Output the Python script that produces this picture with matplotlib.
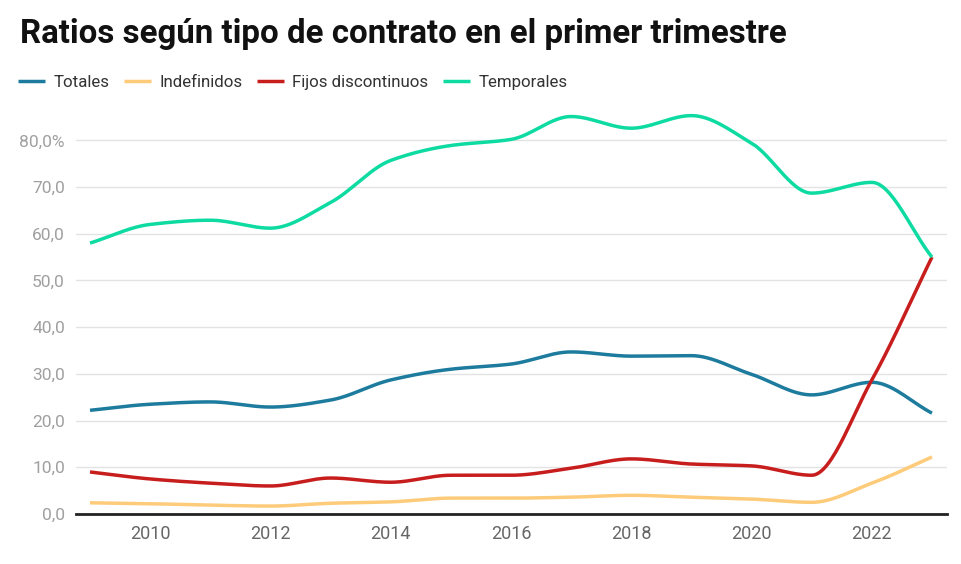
import matplotlib.pyplot as plt
import numpy as np

plt.rcParams['font.family'] = ['Roboto', 'DejaVu Sans']

years = list(range(2009, 2024))
totales = [22.2, 23.5, 24.0, 22.9, 24.4, 28.7, 31.0, 32.1, 34.7, 33.8, 33.9, 29.9, 25.5, 28.2, 21.6]
indefinidos = [2.4, 2.2, 1.9, 1.7, 2.3, 2.6, 3.4, 3.4, 3.6, 4.0, 3.6, 3.2, 2.5, 6.6, 12.2]
fijos_disc = [9.0, 7.5, 6.6, 6.0, 7.7, 6.8, 8.3, 8.3, 9.8, 11.8, 10.7, 10.3, 8.3, 28.7, 55.0]
temporales = [58.0, 62.0, 62.9, 61.2, 66.7, 75.7, 78.9, 80.2, 85.1, 82.6, 85.3, 79.4, 68.7, 71.0, 55.0]

series = [
    ("Totales", totales, "#1d7b9e"),
    ("Indefinidos", indefinidos, "#fdcb79"),
    ("Fijos discontinuos", fijos_disc, "#c71e1d"),
    ("Temporales", temporales, "#0ddba2"),
]


def monotone(x, y, n=30):
    # monotone cubic curve, only for drawing the lines smooth
    x = np.asarray(x, float)
    y = np.asarray(y, float)
    h = np.diff(x)
    d = np.diff(y) / h
    m = np.zeros_like(y)
    m[0], m[-1] = d[0], d[-1]
    for i in range(1, len(y) - 1):
        if d[i - 1] * d[i] > 0:
            m[i] = 2 * d[i - 1] * d[i] / (d[i - 1] + d[i])
    xs, ys = [], []
    t = np.linspace(0, 1, n, endpoint=False)
    h00 = 2 * t**3 - 3 * t**2 + 1
    h10 = t**3 - 2 * t**2 + t
    h01 = -2 * t**3 + 3 * t**2
    h11 = t**3 - t**2
    for i in range(len(x) - 1):
        xs.append(x[i] + t * h[i])
        ys.append(h00 * y[i] + h10 * h[i] * m[i] + h01 * y[i + 1] + h11 * h[i] * m[i + 1])
    xs.append([x[-1]])
    ys.append([y[-1]])
    return np.concatenate(xs), np.concatenate(ys)


fig = plt.figure(figsize=(9.62, 5.64), dpi=100)
ax = fig.add_axes([76 / 962, 50 / 564, 871 / 962, 397 / 564])

for name, vals, col in series:
    sx, sy = monotone(years, vals)
    ax.plot(sx, sy, color=col, lw=2.5, solid_capstyle='butt', label=name, clip_on=False)

ax.set_xlim(2008.767, 2023.25)
ax.set_ylim(0, 85)
ax.set_yticks(range(0, 90, 10))
ax.set_yticklabels(["0,0", "10,0", "20,0", "30,0", "40,0", "50,0", "60,0", "70,0", "80,0%"])
ax.set_xticks(range(2010, 2024, 2))
ax.grid(axis='y', color='#e3e3e3', lw=1)
ax.set_axisbelow(True)
for s in ['top', 'right', 'left']:
    ax.spines[s].set_visible(False)
ax.spines['bottom'].set_color('#222222')
ax.spines['bottom'].set_linewidth(2)
ax.tick_params(axis='y', length=0, pad=8, labelsize=12.5, labelcolor='#a0a0a0')
ax.tick_params(axis='x', length=0, pad=8, labelsize=13, labelcolor='#666666')

fig.text(20 / 962, 1 - 43 / 564, "Ratios según tipo de contrato en el primer trimestre",
         fontsize=23.8, fontweight='bold', color='#111111', va='baseline')

leg = fig.legend(loc='upper left', bbox_to_anchor=(11 / 962, 1 - 68 / 564), ncol=4,
                 frameon=False, fontsize=12.2, handlelength=1.6, handletextpad=0.5,
                 columnspacing=0.85, borderaxespad=0)
for t in leg.get_texts():
    t.set_color('#333333')

fig.savefig("out.png", dpi=100)
